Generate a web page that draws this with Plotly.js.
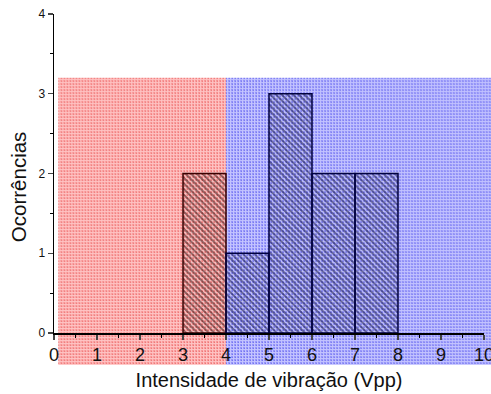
<!DOCTYPE html>
<html><head><meta charset="utf-8">
<script src="https://cdn.plot.ly/plotly-3.0.1.min.js"></script>
<style>html,body{margin:0;padding:0;background:#fff}</style>
</head><body><div id="chart" style="width:491px;height:394px"></div>
<script>
// ---- data ----
const binCenters = [3.5, 4.5, 5.5, 6.5, 7.5];
const counts = [2, 1, 3, 2, 2];
const binWidth = 1;
const threshold = 4;            // boundary between the red and blue zones
const regionStart = [0.1, 4];   // red zone, blue zone
const regionEnd = [4, 10.2];
const regionBottom = -0.4;
const regionTop = 3.2;
const xTickVals = [0, 1, 2, 3, 4, 5, 6, 7, 8, 9, 10];
const yTickVals = [0, 1, 2, 3, 4];
const xTitle = 'Intensidade de vibração (Vpp)';
const yTitle = 'Ocorrências';

// ---- layout constants ----
const W = 491, H = 394;
const M = {l: 54, r: 7, t: 14, b: 61};
const xRange = [0, 10], yRange = [0, 4];
const plotW = W - M.l - M.r, plotH = H - M.t - M.b;
const toPX = v => (v - xRange[0]) / (xRange[1] - xRange[0]);
const toPY = v => (v - yRange[0]) / (yRange[1] - yRange[0]);

const palettes = [
  {base: [248, 150, 150], line: [255, 196, 196], dot: [236, 112, 112]},
  {base: [150, 150, 250], line: [196, 196, 255], dot: [112, 112, 238]}
];
function makePattern(w, h, p) {
  const c = document.createElement('canvas');
  c.width = w; c.height = h;
  const ctx = c.getContext('2d');
  const img = ctx.createImageData(w, h);
  for (let y = 0; y < h; y++) for (let x = 0; x < w; x++) {
    let col = p.base;
    const lx = x % 3 === 1, ly = y % 3 === 1;
    if (lx || ly) col = p.line;
    if (x % 3 === 0 && y % 3 === 0) col = p.dot;
    const i = (y * w + x) * 4;
    img.data[i] = col[0]; img.data[i + 1] = col[1]; img.data[i + 2] = col[2]; img.data[i + 3] = 255;
  }
  ctx.putImageData(img, 0, 0);
  return c.toDataURL('image/png');
}
const images = regionStart.map((s, k) => {
  const x0 = toPX(s), x1 = toPX(regionEnd[k]);
  const y0 = toPY(regionBottom), y1 = toPY(regionTop);
  const w = Math.round((x1 - x0) * plotW), h = Math.round((y1 - y0) * plotH);
  return {source: makePattern(w, h, palettes[k]), xref: 'paper', yref: 'paper',
    x: x0, y: y1, sizex: x1 - x0, sizey: y1 - y0, xanchor: 'left', yanchor: 'top',
    sizing: 'stretch', layer: 'below'};
});

const lowX = [], lowY = [], highX = [], highY = [];
binCenters.forEach((c, i) => {
  if (c < threshold) { lowX.push(c); lowY.push(counts[i]); }
  else { highX.push(c); highY.push(counts[i]); }
});
function barTrace(x, y, fg, edge) {
  return {type: 'bar', x: x, y: y, width: binWidth, hoverinfo: 'skip',
    marker: {color: 'rgba(0,0,0,0)', line: {color: edge, width: 1.5},
      pattern: {shape: '\\', size: 4, solidity: 0.5, fgcolor: fg, bgcolor: 'rgba(0,0,0,0)', fillmode: 'overlay'}}};
}
const traces = [
  barTrace(lowX, lowY, '#200000', '#3a0000'),
  barTrace(highX, highY, '#000030', '#000040')
];

const font = 'Liberation Sans, Arial, sans-serif';
const layout = {
  width: W, height: H, margin: M, showlegend: false, bargap: 0,
  paper_bgcolor: '#fff', plot_bgcolor: 'rgba(0,0,0,0)',
  font: {family: font, color: '#000'},
  images: images,
  annotations: [{text: yTitle, xref: 'paper', yref: 'paper', x: -0.084, y: 0.46,
    xanchor: 'center', yanchor: 'middle', textangle: -90, showarrow: false,
    font: {size: 20.5, color: '#111'}}],
  xaxis: {range: xRange, tickvals: xTickVals, ticks: 'outside', ticklen: 5, tickwidth: 1.2,
    showline: true, linecolor: '#000', linewidth: 1.5, showgrid: false, zeroline: false,
    tickfont: {size: 18, color: '#111'}, ticklabeloverflow: 'allow',
    minor: {dtick: 0.5, ticks: 'outside', ticklen: 3, tickcolor: '#000', showgrid: false},
    title: {text: xTitle, font: {size: 20, color: '#111'}, standoff: 9}},
  yaxis: {range: yRange, tickvals: yTickVals, ticks: 'outside', ticklen: 5, tickwidth: 1.2,
    showline: true, linecolor: '#000', linewidth: 1.5, showgrid: false, zeroline: false,
    tickfont: {size: 12, color: '#111'},
    minor: {dtick: 0.5, ticks: 'outside', ticklen: 3, tickcolor: '#000', showgrid: false}}
};
Plotly.newPlot('chart', traces, layout, {staticPlot: true});
</script></body></html>
